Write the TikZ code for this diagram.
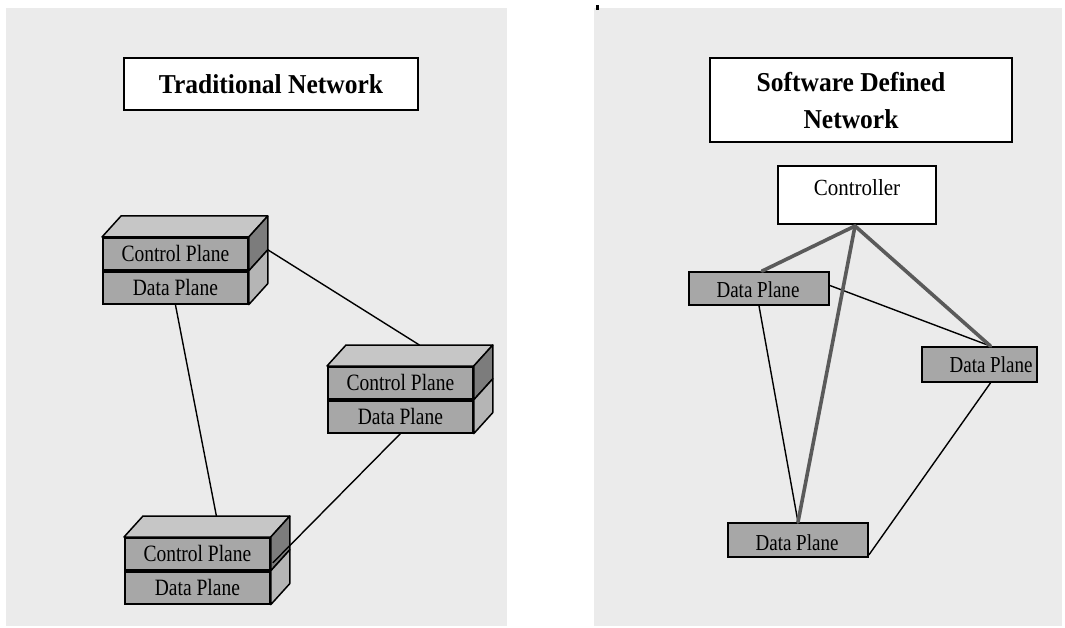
\documentclass[tikz,border=0pt]{standalone}
\usepackage{fontspec}
\setmainfont{Liberation Serif}
\usetikzlibrary{calc}

\definecolor{panelbg}{HTML}{EBEBEB}
\definecolor{planefill}{HTML}{A7A7A7}
\definecolor{topfill}{HTML}{C6C6C6}
\definecolor{sidedark}{HTML}{7C7C7C}
\definecolor{sidelight}{HTML}{B5B5B5}
\definecolor{ctrlink}{HTML}{5A5A5A}

\tikzset{
  panel/.style={fill=panelbg, draw=none},
  titlebox/.style={draw=black, line width=1.8pt, fill=white, inner sep=0pt},
  titletext/.style={font=\fontsize{25.5}{37}\selectfont\bfseries, align=center, inner sep=0pt},
  plane/.style={draw=black, line width=1.8pt, fill=planefill, inner sep=0pt,
    minimum width=145pt, minimum height=32pt,
    font=\fontsize{19.5}{20}\selectfont},
  face/.style={draw=black, line width=1.5pt, line join=round},
  dpbox/.style={draw=black, line width=1.8pt, fill=planefill, inner sep=0pt},
  dptext/.style={font=\fontsize{19}{20}\selectfont, inner sep=0pt},
  link/.style={draw=black, line width=1.4pt},
  ctrl/.style={draw=ctrlink, line width=3.6pt, line cap=round},
}

% A stacked switch: Control Plane over Data Plane with a top and a side face.
% #1 name prefix, #2 x and #3 y of the top-left corner of the front face
\newcommand\switchunit[3]{%
  \node[plane, anchor=north west] (#1c) at (#2,#3)
    {\scalebox{1}[1.2]{Control Plane}};
  \node[plane, anchor=north] (#1d) at (#1c.south)
    {\scalebox{1}[1.2]{Data Plane}};
  \coordinate (#1tl) at ($(#1c.north west)+(19,-21)$);
  \coordinate (#1tr) at ($(#1c.north east)+(19,-21)$);
  \coordinate (#1mr) at ($(#1c.south east)+(19,-21)$);
  \coordinate (#1br) at ($(#1d.south east)+(19,-21)$);
  \filldraw[face, fill=topfill] (#1c.north west) -- (#1tl) -- (#1tr) -- (#1c.north east) -- cycle;
  \filldraw[face, fill=sidedark] (#1c.north east) -- (#1tr) -- (#1mr) -- (#1c.south east) -- cycle;
  \filldraw[face, fill=sidelight] (#1d.north east) -- (#1mr) -- (#1br) -- (#1d.south east) -- cycle;
}

\begin{document}
\begin{tikzpicture}[x=1pt, y=-1pt]
  \useasboundingbox (0,0) rectangle (1065,628);

  % backgrounds of the two panels
  \fill[panel] (6,8) rectangle (507,626);
  \fill[panel] (594,8) rectangle (1062,626);
  \fill[black] (596,5) rectangle (598.5,10);

  % ---------- traditional network ----------
  \node[titlebox, minimum width=294pt, minimum height=52pt] (trad) at (271,84)
    {\scalebox{1}[1.07]{\fontsize{25.5}{30}\selectfont\bfseries Traditional Network}};

  \switchunit{a}{102}{237}
  \switchunit{b}{327}{366}
  \switchunit{c}{124}{537}

  \draw[link] (amr) -- ($(btl)!0.5!(btr)$);
  \draw[link] (ad.south) -- ($(ctl)!0.5!(ctr)$);
  \draw[link] (bd.south) -- ($(cc.south east)+(2,-8)$);

  % ---------- software defined network ----------
  \node[titlebox, minimum width=302pt, minimum height=84pt] (sdn) at (861,100) {};
  \node[titletext] (sdnlabel) at (851,101)
    {\scalebox{1}[1.07]{Software Defined}\\\scalebox{1}[1.07]{Network}};

  \node[titlebox, line width=1.6pt, minimum width=158pt, minimum height=58pt] (ctl) at (857,195) {};
  \node[dptext, font=\fontsize{21}{22}\selectfont] (ctllabel) at (857,188)
    {\scalebox{1}[1.1]{Controller}};
  \coordinate (hub) at (855,226);

  \node[dpbox, minimum width=140pt, minimum height=33pt] (dp1) at (759,288.5) {};
  \node[dptext] (dp1label) at (758,290) {\scalebox{1}[1.2]{Data Plane}};

  \node[dpbox, minimum width=115pt, minimum height=35pt] (dp2) at (979.5,364.5) {};
  \node[dptext] (dp2label) at (991,365) {\scalebox{1}[1.2]{Data Plane}};

  \node[dpbox, minimum width=140pt, minimum height=34pt] (dp3) at (798,540) {};
  \node[dptext] (dp3label) at (797,543) {\scalebox{1}[1.2]{Data Plane}};

  \draw[link] ([yshift=3pt]dp1.east) -- ([xshift=11pt]dp2.north);
  \draw[link] (dp1.south) -- (dp3.north);
  \draw[link] ([xshift=11pt]dp2.south) -- ([yshift=3pt]dp3.south east);

  \draw[ctrl] (hub) -- ([xshift=3pt]dp1.north);
  \draw[ctrl] (hub) -- (dp3.north);
  \draw[ctrl] (hub) -- ([xshift=11pt]dp2.north);
\end{tikzpicture}
\end{document}
